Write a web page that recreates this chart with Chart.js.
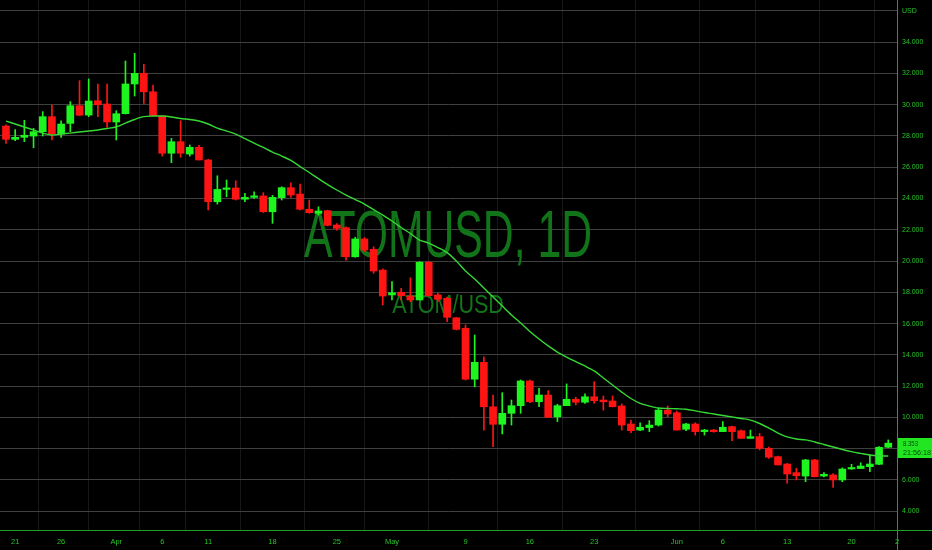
<!DOCTYPE html>
<html>
<head>
<meta charset="utf-8">
<script src="https://cdn.jsdelivr.net/npm/chart.js@4.4.0/dist/chart.umd.min.js"></script>
<style>
  html, body { margin: 0; padding: 0; background: #000; }
  #wrap { width: 932px; height: 550px; position: relative; }
</style>
</head>
<body>
<div id="wrap"><canvas id="c"></canvas></div>
<script>
// ---- data (daily candles, index 0 = Mar 20) ----
const openP = [28.63,27.78,27.91,27.99,28.27,29.23,28.12,28.80,29.93,29.33,
30.25,30.04,28.89,29.42,31.32,32.00,30.82,29.27,26.89,27.63,
26.84,27.27,26.46,23.79,24.58,24.67,23.95,24.07,24.16,23.15,
24.05,24.69,24.28,23.31,23.05,23.22,22.30,22.13,20.27,21.41,
20.75,19.42,17.83,18.00,17.76,17.51,19.92,17.83,17.62,16.37,
15.70,12.44,13.52,10.68,9.56,10.26,10.75,12.33,11.00,11.43,
10.04,10.75,11.16,10.97,11.32,11.11,11.05,10.73,9.58,9.19,
9.35,9.51,10.47,10.30,9.24,9.58,9.09,9.19,9.09,9.41,
9.15,8.66,8.77,8.02,7.49,7.02,6.47,6.25,7.28,6.25,
6.32,6.00,6.70,6.73,6.85,7.00,8.09];
const highP = [28.70,28.40,29.00,28.48,29.55,29.97,28.97,30.19,31.53,31.64,
31.32,31.32,29.61,32.79,33.28,32.57,31.25,29.30,27.84,28.97,
27.42,27.40,26.50,25.45,25.18,25.13,24.33,24.43,24.37,24.20,
24.75,25.00,24.92,23.90,23.47,23.25,22.40,22.19,21.52,21.50,
20.91,19.50,18.68,18.25,18.93,19.96,19.96,17.93,17.70,16.40,
15.91,15.27,13.88,11.43,11.58,11.11,12.39,12.39,11.86,11.71,
10.84,12.14,11.29,11.50,12.28,11.37,11.37,10.86,9.83,9.66,
9.79,10.58,10.73,10.40,9.62,9.66,9.24,9.24,9.73,9.45,
9.20,9.19,8.98,8.10,7.53,7.06,6.75,7.32,7.32,6.47,
6.40,6.77,7.00,7.10,7.60,8.13,8.56];
const lowP = [27.52,27.70,27.63,27.24,27.99,27.74,27.91,28.27,29.30,29.23,
29.23,28.55,27.74,29.40,30.55,30.08,29.29,26.71,26.29,26.63,
26.71,26.46,23.26,23.64,24.11,23.90,23.79,24.01,23.10,22.41,
23.90,24.07,23.26,23.05,22.94,22.24,21.98,20.06,20.24,20.60,
19.21,17.19,17.51,17.51,17.40,17.50,17.76,17.40,16.12,15.59,
12.39,11.96,9.19,8.13,8.94,9.51,10.26,10.94,10.68,10.00,
9.73,10.75,10.80,10.90,10.90,10.47,10.68,9.19,9.02,9.15,
9.09,9.45,10.04,9.19,9.15,8.87,8.87,9.05,9.09,8.51,
8.66,8.66,7.92,7.38,6.96,5.79,6.00,5.89,6.19,6.19,
5.53,5.89,6.68,6.72,6.53,6.98,8.07];
const closeP = [27.78,27.91,28.04,28.27,29.23,28.12,28.76,29.93,29.32,30.23,
29.99,28.89,29.42,31.32,32.00,30.82,29.29,26.89,27.63,26.89,
27.27,26.46,23.79,24.58,24.65,23.95,24.07,24.16,23.15,24.07,
24.69,24.22,23.31,23.09,23.20,22.28,22.09,20.27,21.41,20.70,
19.36,17.76,17.97,17.78,17.51,19.92,17.78,17.55,16.40,15.63,
12.44,13.52,10.68,9.56,10.26,10.75,12.33,11.00,11.43,10.00,
10.75,11.16,10.97,11.32,11.07,11.00,10.68,9.51,9.15,9.37,
9.51,10.47,10.22,9.19,9.58,9.09,9.19,9.09,9.37,9.09,
8.66,8.77,8.02,7.45,6.96,6.38,6.27,7.28,6.21,6.36,
6.00,6.70,6.78,6.89,7.02,8.09,8.353];
const maLine = [28.95,28.76,28.57,28.38,28.18,28.06,28.12,28.18,28.25,28.31,
28.38,28.47,28.57,28.82,29.05,29.23,29.27,29.27,29.21,29.11,
29.05,28.95,28.76,28.50,28.31,28.12,27.83,27.54,27.26,26.97,
26.71,26.43,26.04,25.66,25.27,24.89,24.54,24.22,23.93,23.64,
23.29,22.94,22.56,22.14,21.76,21.34,21.15,20.86,20.54,20.00,
19.36,18.85,18.27,17.70,17.12,16.55,16.04,15.49,15.01,14.57,
14.18,13.86,13.57,13.29,12.97,12.52,12.07,11.62,11.21,10.90,
10.73,10.60,10.57,10.55,10.52,10.42,10.31,10.22,10.12,10.03,
9.93,9.83,9.61,9.32,9.00,8.75,8.62,8.56,8.43,8.27,
8.11,7.95,7.81,7.70,7.60,7.55,7.53];
// x-axis tick positions (day index) and labels
const xTickIdx   = [1, 6, 12, 17, 22, 29, 36, 42, 50, 57, 64, 73, 78, 85, 92, 96.95];
const xTickLabel = ['21','26','Apr','6','11','18','25','May','9','16','23','Jun','6','13','20','2'];
// y-axis ticks
const yTickVals = [4,6,8,10,12,14,16,18,20,22,24,26,28,30,32,34,36];
const yTopLabel = 'USD';
const lastPrice = '8.353';
const countdown = '21:56:18';
const wmMain = 'ATOMUSD, 1D';
const wmSub = 'ATOM/USD';

const UP = '#1ef41e', DOWN = '#ff1414';
const GREEN_TXT = '#28c428';
const FONT = "'Liberation Sans Narrow', 'Liberation Sans', sans-serif";

const idx = closeP.map((_, i) => i);
const colors = closeP.map((c, i) => c >= openP[i] ? UP : DOWN);
const wickData = idx.map(i => ({x: i, y: [lowP[i], highP[i]]}));
const bodyData = idx.map(i => ({x: i, y: [openP[i], closeP[i]]}));
const maData = idx.map(i => ({x: i, y: maLine[i]}));

const watermark = {
  id: 'watermark',
  beforeDatasetsDraw(chart) {
    const {ctx, chartArea: a} = chart;
    const cx = a.left + a.width * 0.4995;
    ctx.save();
    ctx.fillStyle = '#117419';
    ctx.textAlign = 'center';
    ctx.textBaseline = 'alphabetic';
    ctx.save();
    ctx.translate(cx, a.top + 257);
    ctx.scale(0.647, 1);
    ctx.font = "66px 'Liberation Sans', sans-serif";
    ctx.fillText(wmMain, 0, 0);
    ctx.restore();
    ctx.save();
    ctx.translate(cx, a.top + 313);
    ctx.scale(0.86, 1);
    ctx.font = "25px 'Liberation Sans', sans-serif";
    ctx.fillText(wmSub, 0, 0);
    ctx.restore();
    ctx.restore();
  }
};

function fitText(ctx, text, x, y, maxW) {
  const w = ctx.measureText(text).width;
  const s = Math.min(1, maxW / w);
  ctx.save();
  ctx.translate(x, y);
  ctx.scale(s, 1);
  ctx.fillText(text, 0, 0);
  ctx.restore();
}

const frame = {
  id: 'frame',
  afterDraw(chart) {
    const {ctx, chartArea: a, scales} = chart;
    ctx.save();
    ctx.strokeStyle = '#1fa31f';
    ctx.lineWidth = 1;
    ctx.beginPath();
    ctx.moveTo(0, Math.round(a.bottom) + 0.5);
    ctx.lineTo(chart.width, Math.round(a.bottom) + 0.5);
    ctx.moveTo(Math.round(a.right) + 0.5, 0);
    ctx.lineTo(Math.round(a.right) + 0.5, chart.height);
    ctx.stroke();
    // last price box
    const py = scales.y.getPixelForValue(closeP[closeP.length - 1]);
    const bx = Math.round(a.right) + 1;
    const by = Math.round(py) - 5;
    ctx.fillStyle = '#22e622';
    ctx.fillRect(bx, by, chart.width - bx, 20);
    ctx.fillStyle = '#064a06';
    ctx.font = '8px ' + FONT;
    ctx.textAlign = 'left';
    ctx.textBaseline = 'middle';
    fitText(ctx, lastPrice, bx + 5, by + 6, 15);
    fitText(ctx, countdown, bx + 5, by + 15, 28);
    ctx.restore();
  }
};

new Chart(document.getElementById('c'), {
  data: {
    datasets: [
      { type: 'line', data: maData, borderColor: '#36d836', borderWidth: 1.4,
        pointRadius: 0, tension: 0.3, order: 0 },
      { type: 'bar', data: bodyData, backgroundColor: colors, borderWidth: 0,
        barThickness: 7, grouped: false, minBarLength: 1.5, order: 1 },
      { type: 'bar', data: wickData, backgroundColor: colors, borderWidth: 0,
        barThickness: 1, grouped: false, order: 2 }
    ]
  },
  options: {
    responsive: true,
    maintainAspectRatio: false,
    animation: false,
    layout: { padding: 0 },
    plugins: { legend: { display: false }, tooltip: { enabled: false } },
    scales: {
      x: {
        type: 'linear',
        min: -0.65, max: 96.95,
        offset: false,
        afterBuildTicks(s) { s.ticks = xTickIdx.map(v => ({value: v})); },
        afterFit(s) { s.height = 20; s.paddingLeft = 0; s.paddingRight = 0; },
        border: { display: false },
        grid: { color: '#181818', drawTicks: false, lineWidth: 1 },
        ticks: {
          color: GREEN_TXT, font: { family: FONT, size: 7.5 }, padding: 7,
          maxRotation: 0, autoSkip: false,
          callback(v) { const k = xTickIdx.indexOf(v); return k >= 0 ? xTickLabel[k] : ''; }
        }
      },
      y: {
        type: 'linear',
        position: 'right',
        min: 2.80, max: 36.69,
        afterBuildTicks(s) { s.ticks = yTickVals.map(v => ({value: v})); },
        afterFit(s) { s.width = 35; s.paddingTop = 0; s.paddingBottom = 0; },
        border: { display: false },
        grid: { color: '#404040', drawTicks: false, lineWidth: 1 },
        ticks: {
          color: GREEN_TXT, font: { family: FONT, size: 7 }, padding: 5,
          callback(v) { return v === 36 ? yTopLabel : v.toFixed(3); }
        }
      }
    }
  },
  plugins: [watermark, frame]
});
</script>
</body>
</html>
